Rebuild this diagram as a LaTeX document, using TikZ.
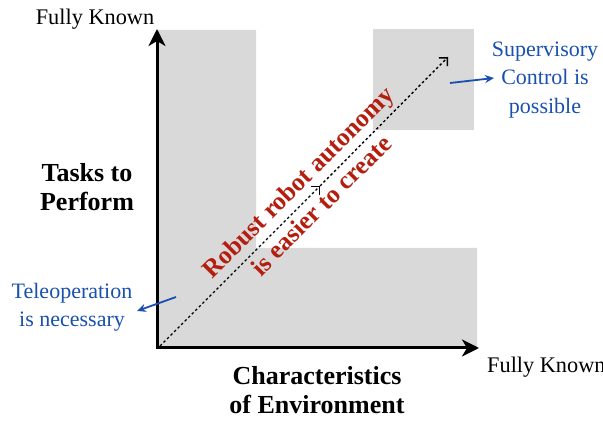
\documentclass[tikz,border=0pt]{standalone}
\usepackage{fontspec}
\setmainfont{Liberation Serif}
\usetikzlibrary{arrows.meta}
\definecolor{zonegray}{RGB}{217,217,217}
\definecolor{noteblue}{RGB}{25,80,175}
\definecolor{notered}{RGB}{180,30,15}
\tikzset{
  zone/.style={fill=zonegray, draw=none},
  axisline/.style={line width=3pt, -{Stealth[length=17pt,width=17pt,inset=5pt]}},
  diagline/.style={line width=1.4pt, dash pattern=on 2.5pt off 2.5pt, -{Straight Barb[length=6pt,width=12pt,line width=1.5pt]}},
  bluearrow/.style={noteblue, line width=1.8pt, -{Stealth[length=9pt,width=8pt]}},
  plaintext/.style={font=\fontsize{22.3}{28}\selectfont, inner sep=0pt},
  bluetext/.style={font=\fontsize{22}{28.5}\selectfont, text=noteblue, align=center, inner sep=0pt},
  boldtext/.style={font=\fontsize{26}{29}\selectfont\bfseries, align=center, inner sep=0pt},
  redtext/.style={font=\fontsize{25.5}{33}\selectfont\bfseries, text=notered, align=center, inner sep=0pt, rotate=45}
}
\begin{document}
\begin{tikzpicture}[x=1pt,y=-1pt]
\useasboundingbox (0,0) rectangle (603,422);
% gray zones
\fill[zone] (157,30) -- (256,30) -- (256,248) -- (477,248) -- (477,348) -- (157,348) -- cycle;
\fill[zone] (373,29) rectangle (474,130);
% coordinates
\coordinate (O) at (157,348);
\coordinate (Ytop) at (157,29);
\coordinate (Xend) at (479,348);
\coordinate (D0) at (160,346);
\coordinate (Dm) at (320,186);
\coordinate (D1) at (448,57);
\coordinate (S0) at (450,83);
\coordinate (S1) at (494,78);
\coordinate (T0) at (176,297);
\coordinate (T1) at (137,311);
% diagonal
\draw[diagline] (D0) -- (Dm);
\draw[diagline] (Dm) -- (D1);
% axes
\draw[axisline] ([yshift=1.5pt]O) -- (Ytop);
\draw[axisline] ([xshift=-1.5pt]O) -- (Xend);
% texts
\node[plaintext, anchor=base] (ytop) at (95,25) {Fully Known};
\node[plaintext, anchor=base west] (xend) at (487,373) {Fully Known};
\node[boldtext] (tasks) at (87,187) {Tasks to\\Perform};
\node[boldtext] (chars) at (317,390) {Characteristics\\of Environment};
\node[bluetext] (sup) at (545,80) {Supervisory\\Control is\\possible};
\node[bluetext] (tele) at (72,307) {Teleoperation\\is necessary};
\node[redtext] (robust) at (309.5,193.5) {Robust robot autonomy\\is easier to create};
% blue arrows
\draw[bluearrow] (S0) -- (S1);
\draw[bluearrow] (T0) -- (T1);
\end{tikzpicture}
\end{document}
